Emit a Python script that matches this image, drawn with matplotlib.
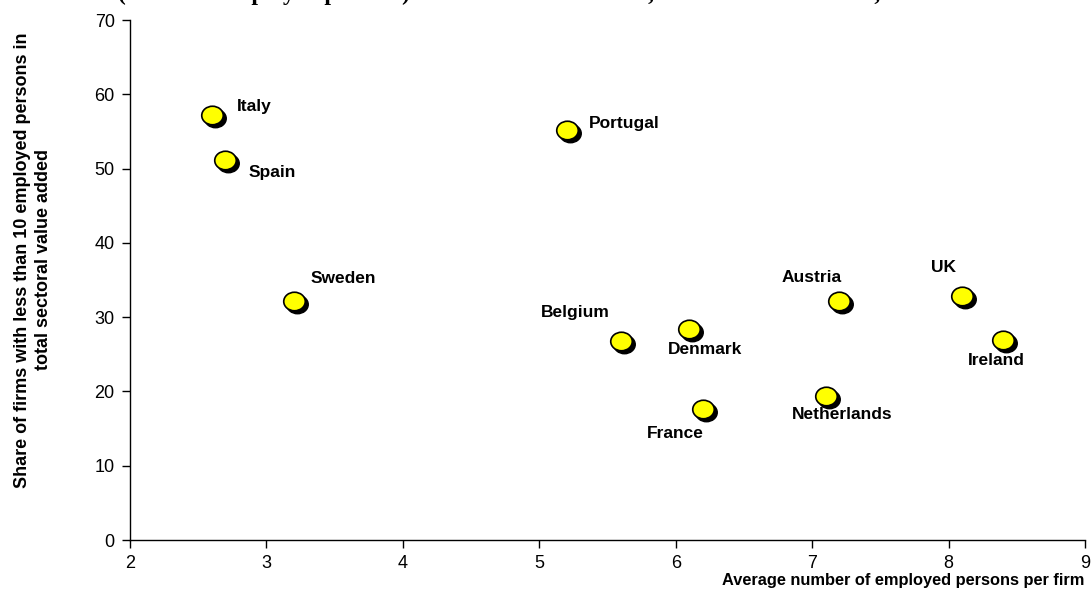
import matplotlib.pyplot as plt
from matplotlib.path import Path
from matplotlib.transforms import offset_copy, Affine2D

# data
countries = ["Italy", "Spain", "Sweden", "Portugal", "Belgium", "Denmark",
             "France", "Austria", "UK", "Ireland", "Netherlands"]
avg_persons = [2.6, 2.7, 3.2, 5.2, 5.6, 6.1, 6.2, 7.2, 8.1, 8.4, 7.1]
share_small = [57.2, 51.2, 32.2, 55.2, 26.8, 28.4, 17.6, 32.2, 32.9, 26.9, 19.4]

# label offsets in pixels (dx, dy) and alignment
label_pos = {
    "Italy": (25, 9, "left"),
    "Spain": (23, -13, "left"),
    "Sweden": (17, 22, "left"),
    "Portugal": (22, 6, "left"),
    "Belgium": (-11, 28, "right"),
    "Denmark": (16, -20, "center"),
    "France": (-28, -24, "center"),
    "Austria": (-28, 23, "center"),
    "UK": (-19, 28, "center"),
    "Ireland": (-7, -20, "center"),
    "Netherlands": (16, -19, "center"),
}

plt.rcParams['font.family'] = ['Liberation Sans', 'DejaVu Sans']

fig = plt.figure(figsize=(10.92, 6.12), dpi=100)
ax = fig.add_axes([0.119, 0.1176, 0.8746, 0.8497])

# slightly flattened dot, like the original
oval = Path.unit_circle().transformed(Affine2D().scale(1, 0.86))

# shadow then yellow dot
shadow = offset_copy(ax.transData, fig=fig, x=3, y=-3, units='dots')
ax.plot(avg_persons, share_small, ls='none', marker=oval, ms=15.5, color='black',
        transform=shadow, clip_on=False)
ax.plot(avg_persons, share_small, ls='none', marker=oval, ms=15.5, mfc='#ffff00',
        mec='black', mew=1.2, clip_on=False)

for name, x, y in zip(countries, avg_persons, share_small):
    dx, dy, ha = label_pos[name]
    ax.annotate(name, (x, y), xytext=(dx, dy), textcoords='offset pixels',
                ha=ha, va='center', fontsize=12.5, fontweight='bold')

ax.set_xlim(2, 9)
ax.set_ylim(0, 70)
ax.set_xticks(range(2, 10))
ax.set_yticks(range(0, 71, 10))
ax.tick_params(labelsize=13, direction='out', length=6, width=1, pad=5)
for s in ['top', 'right']:
    ax.spines[s].set_visible(False)
for s in ['left', 'bottom']:
    ax.spines[s].set_linewidth(1)

fig.text(1084 / 1092, 1 - 580 / 612, "Average number of employed persons per firm",
         ha='right', va='center', fontsize=11.8, fontweight='bold')
fig.text(33 / 1092, 1 - 260 / 612,
         "Share of firms with less than 10 employed persons in\ntotal sectoral value added",
         ha='center', va='center', rotation=90, fontsize=13, fontweight='bold',
         linespacing=1.25)

# title clipped by the top edge, only its descenders show
fig.text(118 / 1092, 1.0,
         "(at least 1 employed persons) in the total retail sector, 15 EU member states, 2001",
         ha='left', va='baseline', fontsize=17, fontweight='bold',
         family='Liberation Serif')

fig.savefig("out.png", dpi=100)
